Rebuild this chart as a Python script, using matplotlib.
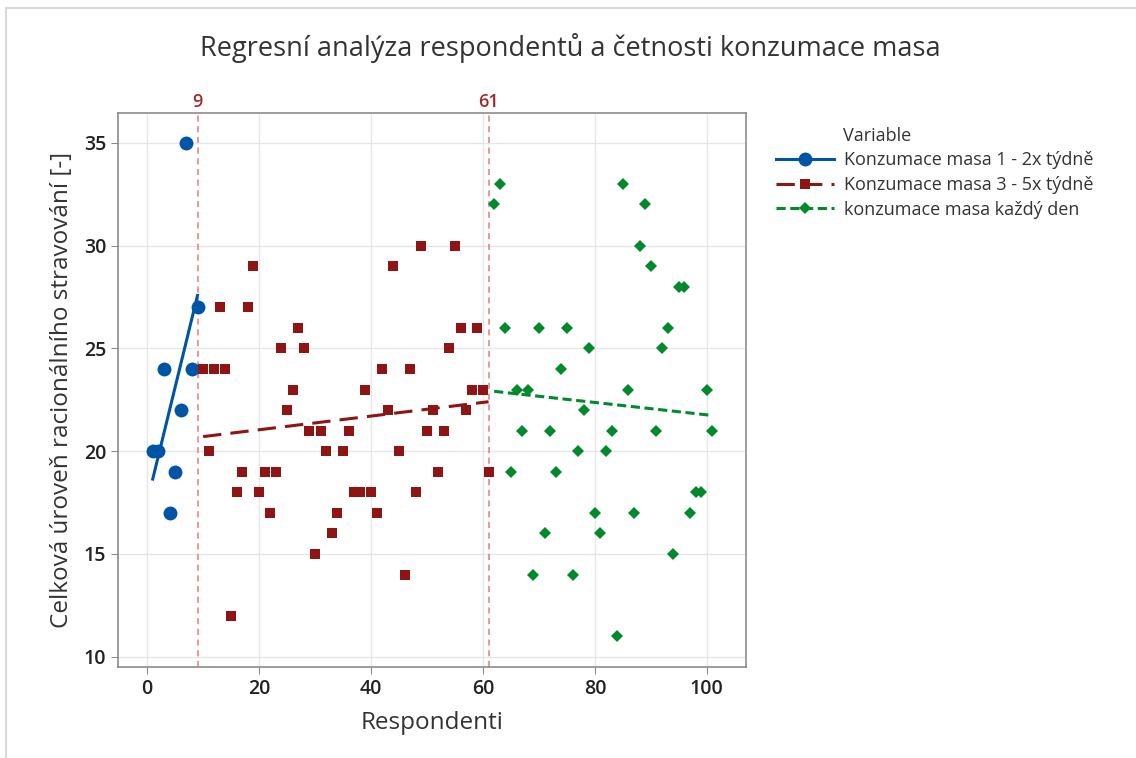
import numpy as np
import matplotlib
matplotlib.use("Agg")
import matplotlib.pyplot as plt
from matplotlib.lines import Line2D

plt.rcParams['font.family'] = ['Open Sans', 'DejaVu Sans']

# respondents and scores per group
x_g1 = [1, 2, 3, 4, 5, 6, 7, 8, 9]
y_g1 = [20, 20, 24, 17, 19, 22, 35, 24, 27]

x_g2 = list(range(10, 62))
y_g2 = [24, 20, 24, 27, 24, 12, 18, 19, 27, 29,
        18, 19, 17, 19, 25, 22, 23, 26, 25, 21,
        15, 21, 20, 16, 17, 20, 21, 18, 18, 23,
        18, 17, 24, 22, 29, 20, 14, 24, 18, 30,
        21, 22, 19, 21, 25, 30, 26, 22, 23, 26,
        23, 19]

x_g3 = list(range(62, 102))
y_g3 = [32, 33, 26, 19, 23, 21, 23, 14, 26, 16,
        21, 19, 24, 26, 14, 20, 22, 25, 17, 16,
        20, 21, 11, 33, 23, 17, 30, 32, 29, 21,
        25, 26, 15, 28, 28, 17, 18, 18, 23, 21]

labels = ["Konzumace masa 1 - 2x týdně",
          "Konzumace masa 3 - 5x týdně",
          "konzumace masa každý den"]
breaks = [9, 61]

c_blue = "#0054a6"
c_red = "#8f1414"
c_green = "#008a2b"
c_text = "#333333"

fig = plt.figure(figsize=(11.36, 7.58), dpi=100)
ax = fig.add_axes([0.1039, 0.12, 0.5528, 0.7309])

groups = [
    (x_g1, y_g1, c_blue, 'o', 10, '-', 2.2),
    (x_g2, y_g2, c_red, 's', 7.5, (0, (6, 3)), 2.2),
    (x_g3, y_g3, c_green, 'D', 6.5, (0, (3, 1.5)), 2.2),
]
handles = []
for (xs, ys, col, mk, ms, ls, lw), lab in zip(groups, labels):
    ax.plot(xs, ys, linestyle='none', marker=mk, markersize=ms,
            color=col, markeredgewidth=0, zorder=3)
    k, q = np.polyfit(xs, ys, 1)
    xx = np.array([min(xs), max(xs)])
    ax.plot(xx, k * xx + q, color=col, linestyle=ls, linewidth=lw, zorder=4)
    handles.append(Line2D([0], [0], color=col, linestyle=ls, linewidth=lw,
                          marker=mk, markersize=ms, markeredgewidth=0))

for b in breaks:
    ax.axvline(b, color="#e87a7a", linestyle=(0, (4, 3)), linewidth=1.1, zorder=2)
    ax.text(b, 36.55, str(b), color="#a02828", fontsize=13, fontweight='semibold',
            ha='center', va='bottom')

ax.set_xlim(-5.2, 107)
ax.set_ylim(9.5, 36.45)
ax.set_xticks([0, 20, 40, 60, 80, 100])
ax.set_yticks([10, 15, 20, 25, 30, 35])
ax.grid(True, color="#e6e6e6", linewidth=1)
ax.set_axisbelow(True)
for s in ax.spines.values():
    s.set_color("#8c8c8c")
    s.set_linewidth(1.2)
ax.tick_params(colors="#8c8c8c", labelcolor="#222222", labelsize=14, length=5)
for t in ax.get_xticklabels() + ax.get_yticklabels():
    t.set_fontweight('semibold')

ax.set_xlabel("Respondenti", fontsize=17.5, color=c_text, labelpad=9)
ax.set_ylabel("Celková úroveň racionálního stravování [-]", fontsize=17.5,
              color=c_text, labelpad=7)
fig.text(0.502, 0.937, "Regresní analýza respondentů a četnosti konzumace masa",
         fontsize=19.5, color=c_text, ha='center', va='center')

fig.text(843 / 1136, 1 - 136 / 758, "Variable", fontsize=13, color=c_text,
         ha='left', va='center')
leg = fig.legend(handles, labels, loc='upper left',
                 bbox_to_anchor=(776 / 1136, 1 - 151 / 758), frameon=False,
                 fontsize=13, handlelength=3.2, labelspacing=0.38,
                 borderaxespad=0, borderpad=0, handletextpad=0.55)
for t in leg.get_texts():
    t.set_color(c_text)

# thin outer border of the picture
fig.add_artist(Line2D([0.005, 1.0], [0.989, 0.989], color="#d9d9d9", linewidth=1.5))
fig.add_artist(Line2D([0.005, 0.005], [0.0, 0.989], color="#d9d9d9", linewidth=1.5))

fig.savefig("out.png", dpi=100)
